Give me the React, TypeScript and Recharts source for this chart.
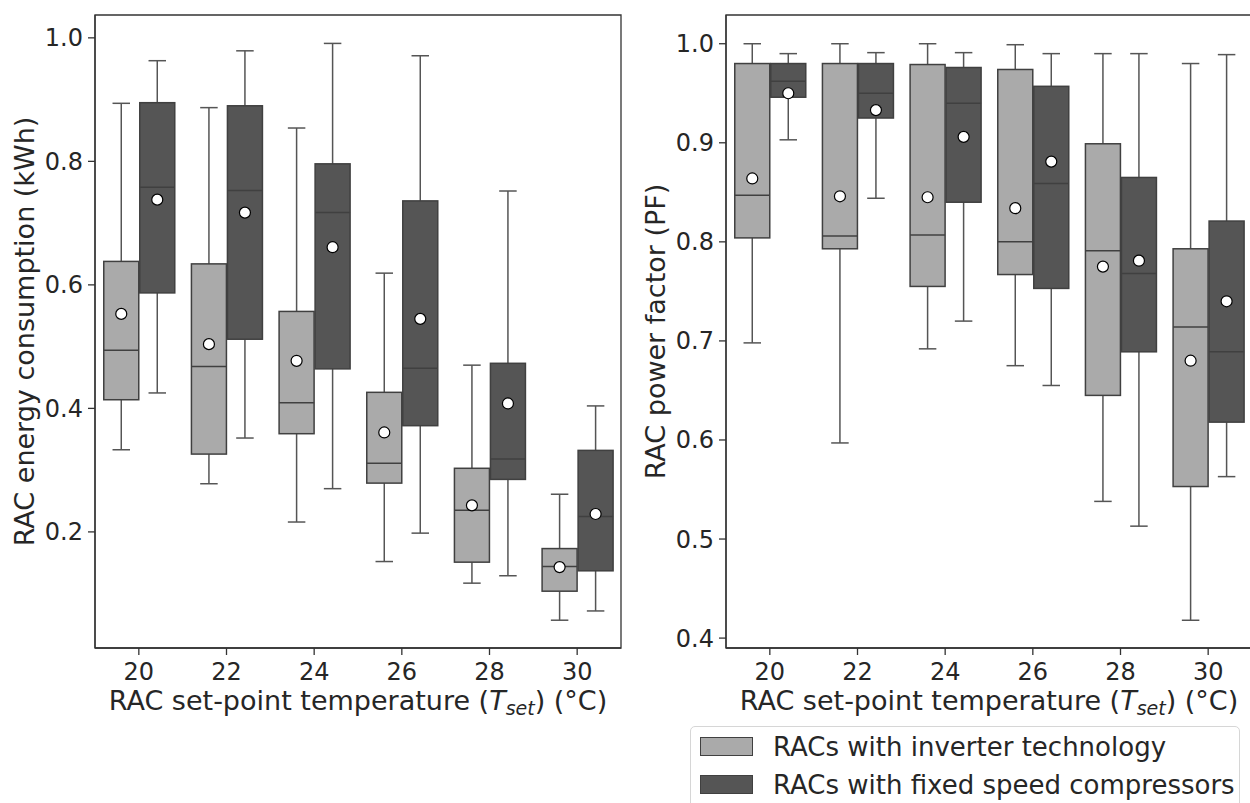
import React from "react";
import { ComposedChart, Bar, XAxis, YAxis, ReferenceArea } from "recharts";

const FONT = "'DejaVu Sans', Verdana, sans-serif";
const TEXT = "#262626";
const SPINE = "#333333";
const LIGHT = "#aaaaaa";
const DARK = "#555555";
const EDGE = "#404040";
const WHISKER = "#555555";

const temps = ["20", "22", "24", "26", "28", "30"];

// energy consumption (kWh), inverter RACs
const energyInvMin = [0.333, 0.278, 0.216, 0.152, 0.117, 0.057];
const energyInvQ1 = [0.414, 0.326, 0.359, 0.279, 0.151, 0.104];
const energyInvMed = [0.494, 0.468, 0.409, 0.311, 0.235, 0.144];
const energyInvQ3 = [0.638, 0.634, 0.557, 0.426, 0.303, 0.173];
const energyInvMax = [0.894, 0.887, 0.854, 0.619, 0.47, 0.261];
const energyInvMean = [0.553, 0.504, 0.477, 0.361, 0.243, 0.143];

// energy consumption (kWh), fixed speed RACs
const energyFixMin = [0.425, 0.352, 0.27, 0.198, 0.129, 0.072];
const energyFixQ1 = [0.587, 0.512, 0.464, 0.372, 0.285, 0.137];
const energyFixMed = [0.758, 0.753, 0.717, 0.465, 0.318, 0.225];
const energyFixQ3 = [0.895, 0.89, 0.796, 0.736, 0.473, 0.332];
const energyFixMax = [0.963, 0.979, 0.991, 0.971, 0.752, 0.404];
const energyFixMean = [0.738, 0.717, 0.661, 0.545, 0.408, 0.229];

// power factor, inverter RACs
const pfInvMin = [0.698, 0.597, 0.692, 0.675, 0.538, 0.418];
const pfInvQ1 = [0.804, 0.793, 0.755, 0.767, 0.645, 0.553];
const pfInvMed = [0.847, 0.806, 0.807, 0.8, 0.791, 0.714];
const pfInvQ3 = [0.98, 0.98, 0.979, 0.974, 0.899, 0.793];
const pfInvMax = [1.0, 1.0, 1.0, 0.999, 0.99, 0.98];
const pfInvMean = [0.864, 0.846, 0.845, 0.834, 0.775, 0.68];

// power factor, fixed speed RACs
const pfFixMin = [0.903, 0.844, 0.72, 0.655, 0.513, 0.563];
const pfFixQ1 = [0.946, 0.925, 0.84, 0.753, 0.689, 0.618];
const pfFixMed = [0.962, 0.95, 0.94, 0.859, 0.768, 0.689];
const pfFixQ3 = [0.98, 0.98, 0.976, 0.957, 0.865, 0.821];
const pfFixMax = [0.99, 0.991, 0.991, 0.99, 0.99, 0.989];
const pfFixMean = [0.95, 0.933, 0.906, 0.881, 0.781, 0.74];

const energyTicks = [0.2, 0.4, 0.6, 0.8, 1.0];
const pfTicks = [0.4, 0.5, 0.6, 0.7, 0.8, 0.9, 1.0];

const stats = (mn: number[], q1: number[], md: number[], q3: number[], mx: number[], mean: number[], i: number) => ({
  min: mn[i],
  q1: q1[i],
  med: md[i],
  q3: q3[i],
  max: mx[i],
  mean: mean[i],
});

const energyData = temps.map((t, i) => ({
  t,
  inv: stats(energyInvMin, energyInvQ1, energyInvMed, energyInvQ3, energyInvMax, energyInvMean, i),
  fix: stats(energyFixMin, energyFixQ1, energyFixMed, energyFixQ3, energyFixMax, energyFixMean, i),
}));

const pfData = temps.map((t, i) => ({
  t,
  inv: stats(pfInvMin, pfInvQ1, pfInvMed, pfInvQ3, pfInvMax, pfInvMean, i),
  fix: stats(pfFixMin, pfFixQ1, pfFixMed, pfFixQ3, pfFixMax, pfFixMean, i),
}));

function BoxShape(props: any) {
  const { x, y, width, height, payload, group, fill } = props;
  const s = payload[group];
  const top = Math.min(y, y + height);
  const bot = Math.max(y, y + height);
  const k = (bot - top) / (s.q3 - s.q1);
  const py = (v: number) => bot - (v - s.q1) * k;
  const cx = x + width / 2;
  const cap = width / 4;
  return (
    <g>
      <line x1={cx} x2={cx} y1={top} y2={py(s.max)} stroke={WHISKER} strokeWidth={1.5} />
      <line x1={cx - cap} x2={cx + cap} y1={py(s.max)} y2={py(s.max)} stroke={WHISKER} strokeWidth={1.5} />
      <line x1={cx} x2={cx} y1={bot} y2={py(s.min)} stroke={WHISKER} strokeWidth={1.5} />
      <line x1={cx - cap} x2={cx + cap} y1={py(s.min)} y2={py(s.min)} stroke={WHISKER} strokeWidth={1.5} />
      <rect x={x} y={top} width={width} height={bot - top} fill={fill} stroke={EDGE} strokeWidth={1.5} />
      <line x1={x} x2={x + width} y1={py(s.med)} y2={py(s.med)} stroke={EDGE} strokeWidth={1.5} />
      <circle cx={cx} cy={py(s.mean)} r={5.5} fill="#ffffff" stroke="#000000" strokeWidth={1.2} />
    </g>
  );
}

function XLabel(props: any) {
  const vb = props.viewBox || {};
  const cx = vb.x + vb.width / 2;
  const by = vb.y + 62;
  return (
    <text x={cx} y={by} textAnchor="middle" fontSize={27} fontFamily={FONT} fill={TEXT}>
      RAC set-point temperature (<tspan fontStyle="italic">T</tspan>
      <tspan fontStyle="italic" fontSize={19} dy={5}>set</tspan>
      <tspan dy={-5}>) (°C)</tspan>
    </text>
  );
}

const makeYLabel = (text: string) => (props: any) => {
  const vb = props.viewBox || {};
  const lx = vb.x + vb.width - 61;
  const ly = vb.y + vb.height / 2;
  return (
    <text
      x={lx}
      y={ly}
      textAnchor="middle"
      fontSize={27}
      fontFamily={FONT}
      fill={TEXT}
      transform={`rotate(-90, ${lx}, ${ly})`}
    >
      {text}
    </text>
  );
};

function BoxPanel({ data, domain, ticks, ylabel }: any) {
  const tickStyle = { fill: TEXT, fontSize: 24, fontFamily: FONT };
  return (
    <ComposedChart
      width={631}
      height={730}
      data={data}
      margin={{ top: 15, right: 10, left: 0, bottom: 0 }}
      barCategoryGap="10%"
      barGap={1}
    >
      <XAxis
        dataKey="t"
        interval={0}
        height={82}
        tickSize={7}
        tickMargin={8}
        tick={tickStyle}
        axisLine={{ stroke: SPINE, strokeWidth: 1.3 }}
        tickLine={{ stroke: SPINE, strokeWidth: 1.3 }}
        label={{ content: XLabel }}
      />
      <YAxis
        type="number"
        domain={domain}
        ticks={ticks}
        allowDataOverflow
        width={95}
        tickSize={7}
        tickMargin={5}
        tick={tickStyle}
        tickFormatter={(v: number) => v.toFixed(1)}
        axisLine={{ stroke: SPINE, strokeWidth: 1.3 }}
        tickLine={{ stroke: SPINE, strokeWidth: 1.3 }}
        label={{ content: makeYLabel(ylabel) }}
      />
      <ReferenceArea
        y1={domain[0]}
        y2={domain[1]}
        fill="none"
        fillOpacity={0}
        stroke={SPINE}
        strokeWidth={1.3}
        ifOverflow="visible"
      />
      <Bar
        dataKey={(d: any) => [d.inv.q1, d.inv.q3]}
        fill={LIGHT}
        isAnimationActive={false}
        shape={(p: any) => <BoxShape {...p} group="inv" fill={LIGHT} />}
      />
      <Bar
        dataKey={(d: any) => [d.fix.q1, d.fix.q3]}
        fill={DARK}
        isAnimationActive={false}
        shape={(p: any) => <BoxShape {...p} group="fix" fill={DARK} />}
      />
    </ComposedChart>
  );
}

export default function App() {
  const legendText = { position: "absolute" as const, left: 82, fontSize: 26, lineHeight: "26px", fontFamily: FONT, color: TEXT, whiteSpace: "nowrap" as const };
  return (
    <div style={{ position: "absolute", left: 0, top: 0, width: 1250, height: 803, overflow: "hidden", background: "#ffffff" }}>
      <div style={{ position: "absolute", left: 0, top: 0 }}>
        <BoxPanel data={energyData} domain={[0.012, 1.037]} ticks={energyTicks} ylabel="RAC energy consumption (kWh)" />
      </div>
      <div style={{ position: "absolute", left: 631, top: 0 }}>
        <BoxPanel data={pfData} domain={[0.39, 1.029]} ticks={pfTicks} ylabel="RAC power factor (PF)" />
      </div>
      <div
        style={{
          position: "absolute",
          left: 690,
          top: 726,
          width: 548,
          height: 110,
          border: "1px solid #d6d6d6",
          borderRadius: 5,
          background: "#ffffff",
        }}
      >
        <div style={{ position: "absolute", left: 9, top: 10, width: 51, height: 17, background: LIGHT, border: `1px solid ${EDGE}` }} />
        <div style={{ ...legendText, top: 7 }}>RACs with inverter technology</div>
        <div style={{ position: "absolute", left: 9, top: 48, width: 51, height: 17, background: DARK, border: `1px solid ${EDGE}` }} />
        <div style={{ ...legendText, top: 45 }}>RACs with fixed speed compressors</div>
      </div>
    </div>
  );
}
